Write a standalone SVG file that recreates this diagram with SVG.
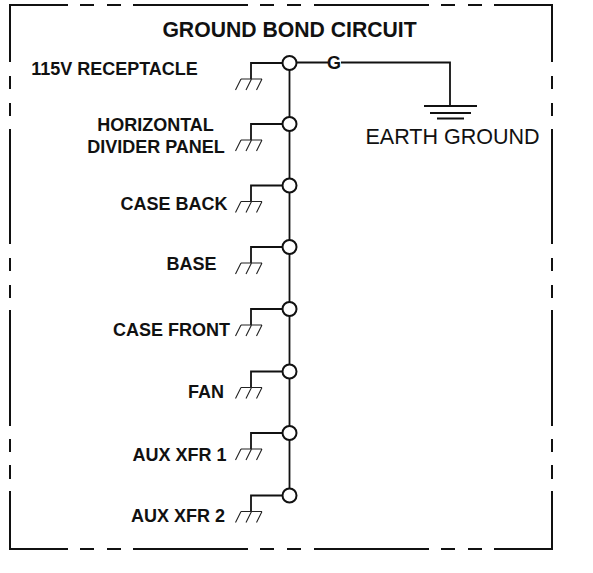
<svg xmlns="http://www.w3.org/2000/svg" xmlns:xlink="http://www.w3.org/1999/xlink" width="593" height="573" viewBox="0 0 593 573">
<style>
.w{fill:none;stroke:#111;stroke-width:1.8}
.b{fill:none;stroke:#111;stroke-width:2}
.t{fill:none;stroke:#222;stroke-width:1.1}
.c{fill:#fff;stroke:#111;stroke-width:2}
text{font-family:"Liberation Sans",Arial,sans-serif;fill:#111}
.l{font-size:18px;font-weight:bold;text-anchor:middle}
</style>
<defs>
<g id="stub">
<path class="w" d="M283 0H251V16"/>
<path class="t" d="M241 16H262M241 16L235.500 27M251.500 16L246 27M262 16L256.500 27"/>
</g>
</defs>
<rect width="593" height="573" fill="#fff"/>
<g id="border">
<path class="b" d="M68 5H10V62M80 5H94M107 5H121M133 5H248M260 5H274M287 5H301M314 5H429M441 5H455M468 5H482M494 5H552V62"/>
<path class="b" d="M10 76V89M10 103V116M10 129V244M10 258V271M10 285V298M10 310V426M10 439V452M10 465V479M10 491V549H68"/>
<path class="b" d="M552 76V89M552 103V116M552 129V244M552 258V271M552 285V298M552 310V426M552 439V452M552 465V479M552 491V549H494"/>
<path class="b" d="M80 549H94M107 549H121M133 549H248M260 549H274M287 549H301M314 549H429M441 549H455M468 549H482"/>
</g>
<text id="title" x="289.500" y="37" font-size="21.200" font-weight="bold" text-anchor="middle">GROUND BOND CIRCUIT</text>
<g id="connectors">
<path class="w" d="M289.500 63V496"/>
<path class="w" d="M296 62.500H328M341 62.500H450V106"/>
</g>
<g id="n1"><use xlink:href="#stub" y="63"/><circle class="c" cx="289.500" cy="63" r="7"/><text class="l" x="114.500" y="75">115V RECEPTACLE</text></g>
<g id="n2"><use xlink:href="#stub" y="124"/><circle class="c" cx="289.500" cy="124" r="7"/><text class="l" x="155.500" y="131">HORIZONTAL</text><text class="l" x="156" y="152.500">DIVIDER PANEL</text></g>
<g id="n3"><use xlink:href="#stub" y="185.500"/><circle class="c" cx="289.500" cy="185.500" r="7"/><text class="l" x="174" y="210">CASE BACK</text></g>
<g id="n4"><use xlink:href="#stub" y="247"/><circle class="c" cx="289.500" cy="247" r="7"/><text class="l" x="191.500" y="270">BASE</text></g>
<g id="n5"><use xlink:href="#stub" y="309"/><circle class="c" cx="289.500" cy="309" r="7"/><text class="l" x="171.500" y="336">CASE FRONT</text></g>
<g id="n6"><use xlink:href="#stub" y="371.500"/><circle class="c" cx="289.500" cy="371.500" r="7"/><text class="l" x="206" y="398">FAN</text></g>
<g id="n7"><use xlink:href="#stub" y="433"/><circle class="c" cx="289.500" cy="433" r="7"/><text class="l" x="179.500" y="460.500">AUX XFR 1</text></g>
<g id="n8"><use xlink:href="#stub" y="495.500"/><circle class="c" cx="289.500" cy="495.500" r="7"/><text class="l" x="178" y="522">AUX XFR 2</text></g>
<text id="g-label" x="334" y="69" font-size="18" font-weight="bold" text-anchor="middle">G</text>
<g id="earth">
<path class="w" d="M424 106H477M430 113H471M437 118.500H464"/>
<text x="452.500" y="144" font-size="21.500" text-anchor="middle">EARTH GROUND</text>
</g>
</svg>
